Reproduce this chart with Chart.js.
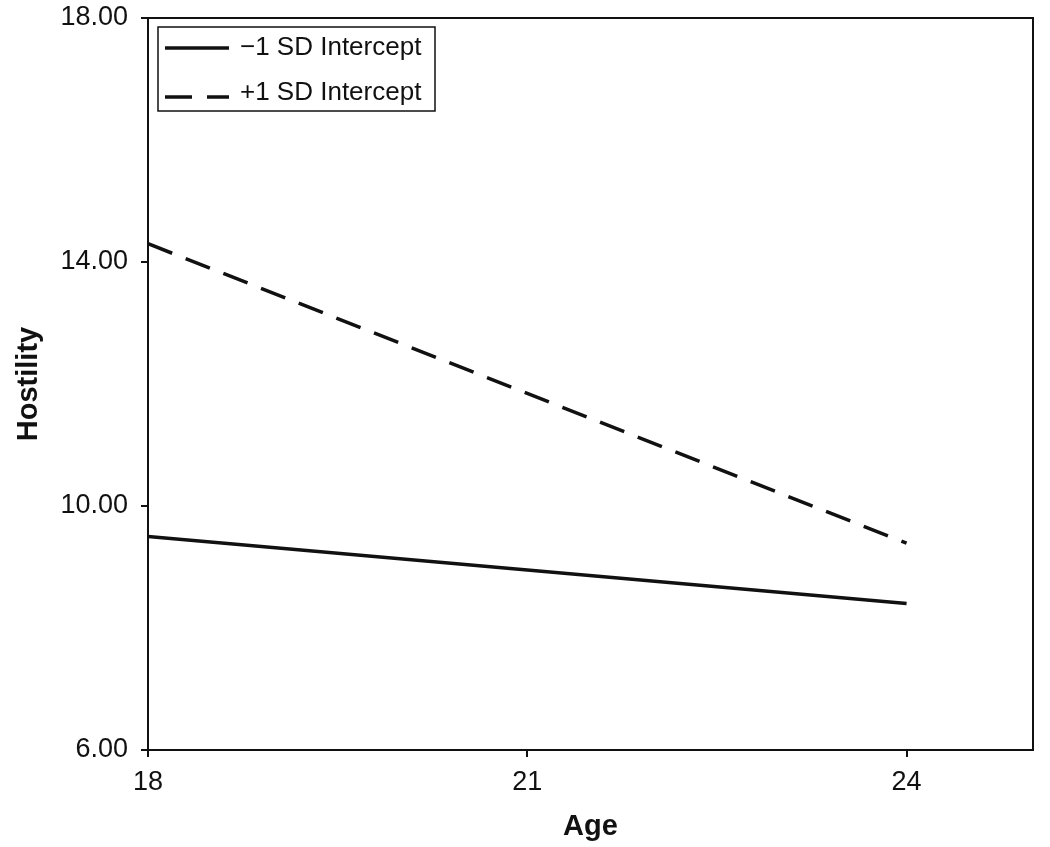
<!DOCTYPE html>
<html>
<head>
<meta charset="utf-8">
<script src="https://cdn.jsdelivr.net/npm/chart.js@4.4.0/dist/chart.umd.min.js"></script>
<style>
  html, body { margin: 0; padding: 0; background: #fff; }
  #wrap { width: 1050px; height: 847px; }
</style>
</head>
<body>
<div id="wrap"><canvas id="chart" width="1050" height="847"></canvas></div>
<script>
// Data
const ages = [18, 24];
const lowIntercept = [9.50, 8.40];   // -1 SD
const highIntercept = [14.30, 9.39]; // +1 SD
const xTicks = [18, 21, 24];
const yTicks = [6, 10, 14, 18];

const FONT = '"Liberation Sans", Arial, sans-serif';
const INK = '#111';

function toPoints(xs, ys) {
    return xs.map((x, i) => ({ x: x, y: ys[i] }));
}

// Draws the top and right edges of the plot box
const frame = {
    id: 'frame',
    afterDraw(chart) {
        const { ctx, chartArea: a } = chart;
        ctx.save();
        ctx.strokeStyle = INK;
        ctx.lineWidth = 2;
        ctx.beginPath();
        ctx.moveTo(a.left, a.top);
        ctx.lineTo(a.right, a.top);
        ctx.lineTo(a.right, a.bottom);
        ctx.stroke();
        ctx.restore();
    }
};

// Boxed legend in the top-left corner of the plot
const boxLegend = {
    id: 'boxLegend',
    afterDraw(chart) {
        const { ctx, chartArea: a } = chart;
        const x0 = a.left + 10, y0 = a.top + 9;
        const w = 277, h = 84;
        ctx.save();
        ctx.strokeStyle = INK;
        ctx.lineWidth = 1.5;
        ctx.strokeRect(x0, y0, w, h);
        ctx.font = '26px ' + FONT;
        ctx.fillStyle = INK;
        ctx.textBaseline = 'middle';
        chart.data.datasets.forEach((ds, i) => {
            const ty = y0 + 21 + i * 45;
            const ly = y0 + 21 + i * 49;
            ctx.beginPath();
            ctx.lineWidth = ds.borderWidth;
            ctx.setLineDash(ds.borderDash ? [27, 15] : []);
            ctx.moveTo(x0 + 7, ly);
            ctx.lineTo(x0 + 71, ly);
            ctx.stroke();
            ctx.setLineDash([]);
            ctx.fillText(ds.label, x0 + 82, ty);
        });
        ctx.restore();
    }
};

new Chart(document.getElementById('chart'), {
    type: 'line',
    data: {
        datasets: [
            {
                label: '\u22121 SD Intercept',
                data: toPoints(ages, lowIntercept),
                borderColor: INK,
                borderWidth: 3.5,
                pointRadius: 0,
                fill: false
            },
            {
                label: '+1 SD Intercept',
                data: toPoints(ages, highIntercept),
                borderColor: INK,
                borderWidth: 3.5,
                borderDash: [26, 14.5],
                pointRadius: 0,
                fill: false
            }
        ]
    },
    options: {
        responsive: false,
        animation: false,
        layout: { padding: { left: 10, right: 17, top: 18, bottom: 3 } },
        plugins: {
            legend: { display: false },
            tooltip: { enabled: false }
        },
        scales: {
            x: {
                type: 'linear',
                min: 18,
                max: 25,
                afterBuildTicks: (scale) => { scale.ticks = xTicks.map(v => ({ value: v })); },
                afterFit: (scale) => { scale.height = 94; scale.paddingLeft = 0; scale.paddingRight = 0; },
                grid: { drawOnChartArea: false, drawTicks: true, tickLength: 7, color: INK, lineWidth: 2 },
                border: { display: true, color: INK, width: 2 },
                ticks: { color: INK, font: { family: FONT, size: 27 }, padding: 9, maxRotation: 0 },
                title: { display: true, text: 'Age', color: INK, font: { family: FONT, size: 29, weight: 'bold' }, padding: 0 }
            },
            y: {
                min: 6,
                max: 18,
                afterBuildTicks: (scale) => { scale.ticks = yTicks.map(v => ({ value: v })); },
                afterFit: (scale) => { scale.width = 138; scale.paddingTop = 0; scale.paddingBottom = 0; },
                grid: { drawOnChartArea: false, drawTicks: true, tickLength: 7, color: INK, lineWidth: 2 },
                border: { display: true, color: INK, width: 2 },
                ticks: { color: INK, font: { family: FONT, size: 27 }, padding: 13, callback: v => v.toFixed(2) },
                title: { display: true, text: 'Hostility', color: INK, font: { family: FONT, size: 29, weight: 'bold' }, padding: 2 }
            }
        }
    },
    plugins: [frame, boxLegend]
});
</script>
</body>
</html>
